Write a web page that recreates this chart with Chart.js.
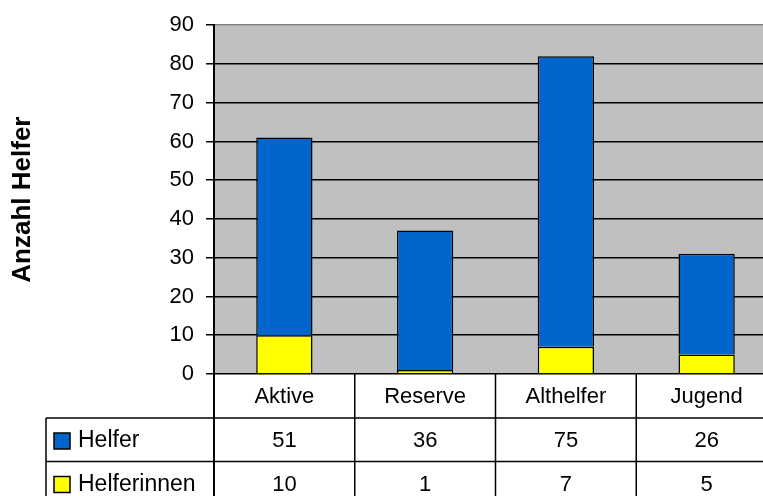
<!DOCTYPE html>
<html>
<head>
<meta charset="utf-8">
<script src="https://cdn.jsdelivr.net/npm/chart.js@4.4.0/dist/chart.umd.min.js"></script>
<style>
  html, body { margin: 0; padding: 0; background: #fff; overflow: hidden; }
  #wrap { width: 763px; height: 496px; overflow: hidden; }
  #box { width: 780px; height: 496px; }
</style>
</head>
<body>
<div id="wrap"><div id="box"><canvas id="myChart"></canvas></div></div>
<script>
const categories = ["Aktive", "Reserve", "Althelfer", "Jugend"];
const helfer = [51, 36, 75, 26];
const helferinnen = [10, 1, 7, 5];
const yTicks = [0, 10, 20, 30, 40, 50, 60, 70, 80, 90];

const FONT = "'Liberation Sans', Arial, sans-serif";
const BLUE = "#0066CC";
const YELLOW = "#FFFF00";

// rows of the data table under the chart
const tableRows = [
  { label: "Helfer", color: BLUE, values: helfer },
  { label: "Helferinnen", color: YELLOW, values: helferinnen }
];

// grauer Hintergrund der Zeichenfläche
const plotBg = {
  id: "plotBg",
  beforeDraw(chart) {
    const { ctx, chartArea: a } = chart;
    ctx.save();
    ctx.fillStyle = "#C0C0C0";
    ctx.fillRect(a.left, a.top, a.right - a.left, a.bottom - a.top);
    ctx.restore();
  }
};

// Datentabelle unter der x-Achse
const dataTable = {
  id: "dataTable",
  afterDraw(chart) {
    const { ctx, chartArea: a } = chart;
    const x = chart.scales.x;
    const rowH = 44;
    const tableLeft = 46;
    const rowTops = [a.bottom, a.bottom + rowH, a.bottom + rowH * 2 - 0.5];
    const bottom = chart.height;

    // column borders
    const edges = [];
    for (let i = 0; i <= categories.length; i++) {
      if (i === 0) edges.push(a.left);
      else if (i === categories.length) edges.push(a.right);
      else edges.push((x.getPixelForValue(i - 1) + x.getPixelForValue(i)) / 2);
    }

    ctx.save();
    ctx.strokeStyle = "#000";
    ctx.lineWidth = 1.5;
    ctx.beginPath();
    // horizontal lines
    for (let r = 1; r < rowTops.length; r++) {
      ctx.moveTo(tableLeft, rowTops[r]);
      ctx.lineTo(a.right, rowTops[r]);
    }
    // vertical lines
    edges.forEach((ex, i) => {
      ctx.moveTo(ex, a.bottom);
      ctx.lineTo(ex, bottom);
    });
    ctx.moveTo(tableLeft, rowTops[1]);
    ctx.lineTo(tableLeft, bottom);
    ctx.stroke();

    ctx.lineWidth = 2;
    ctx.beginPath();
    ctx.moveTo(a.left, a.bottom);
    ctx.lineTo(a.left, bottom);
    ctx.stroke();

    ctx.fillStyle = "#000";
    ctx.font = "22px " + FONT;
    ctx.textAlign = "center";
    ctx.textBaseline = "middle";
    categories.forEach((c, i) => {
      ctx.fillText(c, x.getPixelForValue(i), rowTops[0] + rowH / 2 + 1);
    });

    tableRows.forEach((row, r) => {
      const cy = rowTops[r + 1] + rowH / 2 + 1;
      row.values.forEach((v, i) => {
        ctx.textAlign = "center";
        ctx.fillText(String(v), x.getPixelForValue(i), cy);
      });
      // legend key
      ctx.fillStyle = row.color;
      ctx.fillRect(54, cy - 8, 16, 16);
      ctx.lineWidth = 1.5;
      ctx.strokeRect(54, cy - 8, 16, 16);
      ctx.fillStyle = "#000";
      ctx.textAlign = "left";
      ctx.font = "23px " + FONT;
      ctx.fillText(row.label, 78, cy);
      ctx.font = "22px " + FONT;
    });
    ctx.restore();
  }
};

const ctx = document.getElementById("myChart").getContext("2d");
window.myChart = new Chart(ctx, {
  type: "bar",
  data: {
    labels: categories,
    datasets: [
      {
        label: "Helferinnen",
        data: helferinnen,
        backgroundColor: YELLOW,
        borderColor: "#000",
        borderWidth: 1.5,
        barPercentage: 0.4,
        categoryPercentage: 1
      },
      {
        label: "Helfer",
        data: helfer,
        backgroundColor: BLUE,
        borderColor: "#000",
        borderWidth: 1.5,
        barPercentage: 0.4,
        categoryPercentage: 1
      }
    ]
  },
  options: {
    responsive: true,
    maintainAspectRatio: false,
    animation: false,
    layout: { padding: { top: 23, right: 3, bottom: 122, left: 0 } },
    plugins: {
      legend: { display: false },
      tooltip: { enabled: false }
    },
    scales: {
      x: {
        stacked: true,
        display: false
      },
      y: {
        stacked: true,
        min: 0,
        max: 90,
        afterFit(scale) { scale.width = 214; },
        afterBuildTicks(scale) { scale.ticks = yTicks.map(v => ({ value: v })); },
        border: { display: true, color: "#000", width: 2 },
        grid: {
          color: c => (c.tick && c.tick.value === 90 ? "#808080" : "#000"),
          lineWidth: 1.5,
          tickLength: 8,
          tickColor: "#000"
        },
        ticks: {
          color: "#000",
          font: { family: FONT, size: 22 },
          padding: 12
        },
        title: {
          display: true,
          text: "Anzahl Helfer",
          color: "#000",
          font: { family: FONT, size: 26, weight: "bold" },
          padding: { top: 7, bottom: 0 }
        }
      }
    }
  },
  plugins: [plotBg, dataTable]
});
</script>
</body>
</html>
